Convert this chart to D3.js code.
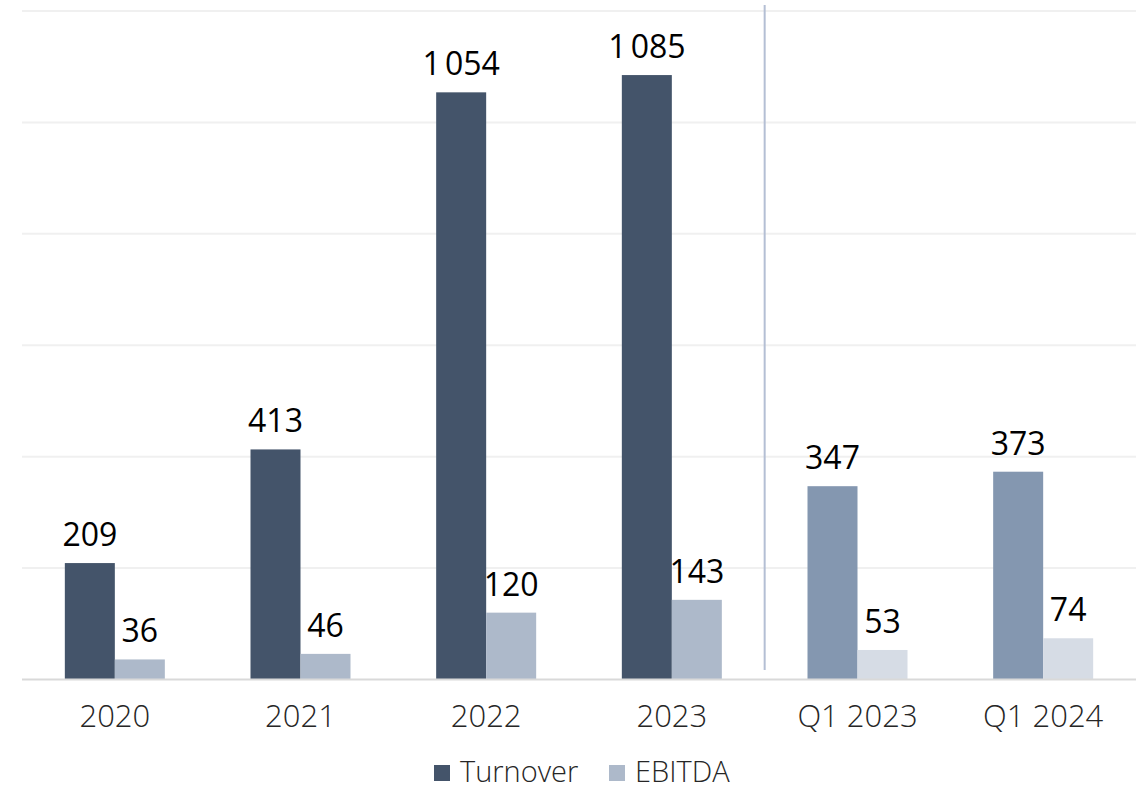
<!DOCTYPE html>
<html>
<head>
<meta charset="utf-8">
<script src="https://cdn.jsdelivr.net/npm/d3@7"></script>
<style>
  html, body { margin: 0; padding: 0; background: #fff; }
  svg { display: block; }
</style>
</head>
<body>
<svg id="chart" width="1143" height="792"></svg>
<script>
const categories = ["2020", "2021", "2022", "2023", "Q1 2023", "Q1 2024"];
const turnover = [209, 413, 1054, 1085, 347, 373];
const ebitda = [36, 46, 120, 143, 53, 74];
const seriesNames = ["Turnover", "EBITDA"];
const yTicks = [0, 200, 400, 600, 800, 1000, 1200];
const quarterCategories = ["Q1 2023", "Q1 2024"];

const colors = {
  Turnover: "#44546a",
  EBITDA: "#adb9ca",
  TurnoverQ: "#8497b0",
  EBITDAQ: "#d6dce5"
};

const svg = d3.select("#chart");
const plotLeft = 22, plotRight = 1136, plotTop = 11, plotBottom = 679.5;

const x = d3.scaleBand().domain(categories).range([plotLeft, plotRight])
  .paddingInner(0.4614).paddingOuter(0.2307);
const x1 = d3.scaleBand().domain(seriesNames).range([0, x.bandwidth()]).padding(0);
const y = d3.scaleLinear().domain([0, 1200]).range([plotBottom, plotTop]);

const fmt = d3.formatLocale({decimal: ",", thousands: "\u202F", grouping: [3], currency: ["", ""]}).format(",d");

// gridlines
svg.append("g")
  .selectAll("line")
  .data(yTicks.filter(d => d > 0))
  .join("line")
  .attr("x1", plotLeft).attr("x2", plotRight)
  .attr("y1", d => y(d)).attr("y2", d => y(d))
  .attr("stroke", "#f0f0f0").attr("stroke-width", 2);

const data = categories.map((c, i) => ({cat: c, values: [
  {key: "Turnover", value: turnover[i]},
  {key: "EBITDA", value: ebitda[i]}
]}));

const groups = svg.append("g").selectAll("g")
  .data(data).join("g")
  .attr("transform", d => `translate(${x(d.cat)},0)`);

groups.selectAll("rect")
  .data(d => d.values.map(v => ({...v, q: quarterCategories.includes(d.cat)})))
  .join("rect")
  .attr("x", d => x1(d.key))
  .attr("width", x1.bandwidth())
  .attr("y", d => y(d.value))
  .attr("height", d => y(0) - y(d.value))
  .attr("fill", d => colors[d.key + (d.q ? "Q" : "")]);

groups.selectAll("text")
  .data(d => d.values)
  .join("text")
  .attr("x", d => x1(d.key) + x1.bandwidth() / 2)
  .attr("y", d => y(d.value) - 17)
  .attr("text-anchor", "middle")
  .attr("font-family", "'Open Sans', sans-serif")
  .attr("font-size", 32)
  .attr("fill", "#000")
  .text(d => fmt(d.value));

// baseline axis
const xAxis = svg.append("g")
  .attr("transform", `translate(0,${plotBottom})`)
  .call(d3.axisBottom(x).tickSize(0).tickPadding(25));
xAxis.select(".domain").attr("stroke", "#d9d9d9").attr("stroke-width", 2)
  .attr("d", `M${plotLeft},0H${plotRight}`);
xAxis.selectAll("text")
  .attr("font-family", "'Open Sans', sans-serif")
  .attr("font-weight", 300)
  .attr("font-size", 31)
  .attr("fill", "#262626")
  .attr("dy", "0.71em");

// separator
const sepX = x(quarterCategories[0]) - x.step() * x.paddingInner() / 2;
svg.append("line")
  .attr("x1", sepX).attr("x2", sepX)
  .attr("y1", 5).attr("y2", 670)
  .attr("stroke", "#b4bfd4").attr("stroke-width", 2);

// legend
const legend = svg.append("g");
const legendItems = [
  {name: "Turnover", x: 434},
  {name: "EBITDA", x: 609}
];
legendItems.forEach(it => {
  legend.append("rect").attr("x", it.x).attr("y", 765).attr("width", 16).attr("height", 16)
    .attr("fill", colors[it.name]);
  legend.append("text").attr("x", it.x + 26).attr("y", 782)
    .attr("font-family", "'Open Sans', sans-serif")
    .attr("font-weight", 300)
    .attr("font-size", 29)
    .attr("fill", "#262626")
    .text(it.name);
});
</script>
</body>
</html>
